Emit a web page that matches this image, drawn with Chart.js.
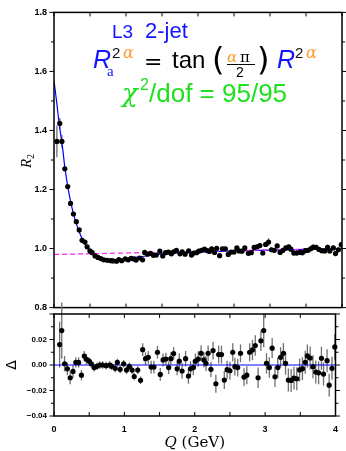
<!DOCTYPE html>
<html>
<head>
<meta charset="utf-8">
<script src="https://cdn.jsdelivr.net/npm/chart.js@4.4.1/dist/chart.umd.min.js"></script>
<style>
  body { margin: 0; background: #fff; }
  #wrap { position: relative; width: 346px; height: 451px; }
  canvas { position: absolute; left: 0; }
  #upper { top: 0; }
  #lower { top: 296px; }
</style>
</head>
<body>
<div id="wrap">
  <canvas id="upper" width="346" height="320"></canvas>
  <canvas id="lower" width="346" height="155"></canvas>
</div>
<script>
// Q bins of the residual panel (GeV)
const deltaQ = [
  0.08,0.11,0.15,0.19,0.23,0.27,0.31,0.35,0.39,0.43,
  0.46,0.50,0.53,0.57,0.61,0.65,0.69,0.74,0.79,0.82,
  0.87,0.90,0.94,0.99,1.03,1.07,1.11,1.14,1.19,1.23,
  1.26,1.30,1.34,1.38,1.42,1.47,1.51,1.55,1.59,1.63,
  1.66,1.70,1.75,1.78,1.82,1.87,1.91,1.94,1.98,2.01,
  2.05,2.09,2.13,2.16,2.19,2.23,2.26,2.30,2.34,2.38,
  2.42,2.46,2.50,2.54,2.57,2.61,2.65,2.70,2.74,2.78,
  2.82,2.86,2.90,2.94,2.98,3.02,3.06,3.10,3.14,3.18,
  3.22,3.26,3.29,3.33,3.37,3.41,3.45,3.49,3.53,3.57,
  3.60,3.64,3.68,3.72,3.76,3.80,3.83,3.88,3.91,3.95,
  3.99
];
const deltaValues = [
  0.016,0.027,0.001,-0.003,-0.010,-0.005,0.002,0.002,-0.008,0.007,
  0.0045,0.003,0.001,-0.002,-0.001,0.000,0.000,-0.0005,0.000,-0.001,
  -0.0026,0.002,-0.0034,0.001,-0.004,-0.001,-0.004,-0.009,-0.004,-0.012,
  0.012,0.005,0.006,-0.0016,-0.0016,0.010,-0.0074,0.004,0.0047,-0.002,
  0.005,0.009,-0.003,0.003,-0.0047,0.005,-0.0087,-0.003,-0.002,0.003,
  0.0047,0.0092,0.004,0.0013,0.0092,-0.0034,0.0113,-0.0147,0.0082,0.0082,
  -0.0118,-0.0037,-0.0045,0.010,-0.0013,-0.002,0.0092,-0.0095,-0.008,0.010,
  0.0118,0.0153,-0.010,0.019,0.027,0.0013,-0.002,0.0132,-0.0092,-0.002,
  0.006,0.0092,0.0013,-0.0118,-0.0121,-0.0103,-0.0108,-0.0039,-0.0029,0.0021,
  0.0071,0.0055,-0.0013,-0.0055,-0.0061,0.0053,-0.0071,0.0034,-0.0158,-0.0026,
  0.0142
];
const deltaErrors = [
  0.018,0.022,0.006,0.005,0.005,0.005,0.004,0.004,0.004,0.004,
  0.004,0.003,0.003,0.003,0.003,0.003,0.003,0.003,0.003,0.003,
  0.003,0.003,0.003,0.003,0.003,0.003,0.003,0.003,0.003,0.003,
  0.005,0.005,0.005,0.005,0.005,0.005,0.005,0.005,0.005,0.005,
  0.005,0.005,0.005,0.006,0.006,0.006,0.006,0.006,0.006,0.006,
  0.006,0.006,0.006,0.006,0.006,0.006,0.007,0.007,0.007,0.007,
  0.007,0.007,0.007,0.007,0.007,0.007,0.007,0.007,0.007,0.007,
  0.008,0.008,0.008,0.008,0.013,0.008,0.008,0.008,0.008,0.008,
  0.008,0.008,0.009,0.009,0.009,0.009,0.009,0.009,0.009,0.009,
  0.009,0.009,0.009,0.009,0.009,0.009,0.009,0.009,0.009,0.009,
  0.010
];

// R2 data: one extra bin at 0.04 GeV, then the same bins as above
const r2Q = [0.04].concat(deltaQ);
const r2Values = [
  1.363,
  1.424,1.363,1.270,1.210,1.153,1.117,1.091,1.063,1.028,1.022,
  1.006,0.992,0.986,0.975,0.970,0.966,0.962,0.960,0.959,0.958,
  0.957,0.963,0.959,0.965,0.962,0.967,0.965,0.961,0.968,0.962,
  0.987,0.981,0.984,0.977,0.978,0.991,0.975,0.986,0.988,0.982,
  0.989,0.994,0.982,0.989,0.981,0.992,0.978,0.985,0.986,0.991,
  0.994,0.998,0.993,0.990,0.999,0.987,1.001,0.976,0.999,0.999,
  0.980,0.988,0.988,1.002,0.992,0.991,1.002,0.984,0.986,1.004,
  1.006,1.010,0.985,1.014,1.022,0.996,0.994,1.009,0.987,0.994,
  1.002,1.006,0.998,0.985,0.985,0.987,0.986,0.993,0.994,1.000,
  1.005,1.004,0.997,0.993,0.992,1.004,0.992,1.002,0.983,0.996,
  1.013
];
const r2Errors = [0.054].concat(deltaErrors);

// fitted Levy curve and long-range background
const fitQ = [0,0.02,0.04,0.06,0.08,0.10,0.12,0.15,0.20,0.25,0.30,0.35,0.40,0.45,0.50,
  0.55,0.60,0.65,0.70,0.75,0.80,0.90,1.00,1.10,1.20,1.30,1.40,1.50,1.75,2.00,2.50,3.00,3.50,4.00];
const fitValues = [1.569,1.530,1.490,1.447,1.408,1.375,1.340,1.276,1.198,1.138,1.092,1.057,1.028,1.006,0.991,
  0.981,0.972,0.966,0.962,0.960,0.959,0.961,0.964,0.969,0.972,0.976,0.979,0.982,0.985,0.988,0.992,0.995,0.997,0.999];
const bgQ = [0, 4];
const bgValues = [0.980, 1.000];
const zeroQ = [0, 4];
const zeroValues = [0, 0];

const pts = (xs, ys) => xs.map((q, i) => ({x: q, y: ys[i]}));

const errorBars = {
  id: 'errorBars',
  beforeDatasetsDraw(chart) {
    const {ctx, scales: {x, y}} = chart;
    chart.data.datasets.forEach(ds => {
      if (!ds.errors) return;
      ctx.save();
      ctx.strokeStyle = '#707070';
      ctx.lineWidth = 1.3;
      ds.data.forEach((p, j) => {
        const e = ds.errors[j];
        const px = x.getPixelForValue(p.x);
        ctx.beginPath();
        ctx.moveTo(px, y.getPixelForValue(p.y - e));
        ctx.lineTo(px, y.getPixelForValue(p.y + e));
        ctx.stroke();
      });
      ctx.restore();
    });
  }
};

// frame with outward y ticks and inward x ticks
const frame = {
  id: 'frame',
  afterDraw(chart, args, opts) {
    const {ctx, chartArea: a, scales: {x, y}} = chart;
    ctx.save();
    ctx.strokeStyle = '#000';
    const seg = (x1, y1, x2, y2) => { ctx.beginPath(); ctx.moveTo(x1, y1); ctx.lineTo(x2, y2); ctx.stroke(); };
    ctx.lineWidth = 1;
    const n = Math.round((y.max - y.min) / opts.yMinor);
    for (let i = 0; i <= n; i++) {
      const v = y.min + i * opts.yMinor;
      const py = y.getPixelForValue(v);
      const len = (i % opts.majorEvery === 0) ? 4.5 : 3;
      seg(a.left - len, py, a.left, py);
      seg(a.right, py, a.right + len, py);
    }
    for (let i = 0; i <= 8; i++) {
      const px = x.getPixelForValue(i * 0.5);
      seg(px, a.top, px, a.top + 4);
      seg(px, a.bottom, px, a.bottom - 4);
    }
    ctx.lineWidth = 1.5;
    ctx.strokeRect(a.left, a.top, a.right - a.left, a.bottom - a.top);
    ctx.restore();
  }
};

function piece(ctx, text, x, y, font, color) {
  ctx.font = font;
  ctx.fillStyle = color;
  ctx.fillText(text, x, y);
}

const upperText = {
  id: 'upperText',
  afterDraw(chart) {
    const ctx = chart.ctx;
    ctx.save();
    ctx.textBaseline = 'alphabetic';
    const blue = '#1414ff', orange = '#ff9a30', green = '#1ee01e';
    piece(ctx, 'L3', 112, 38, '19px "Liberation Sans"', blue);
    piece(ctx, '2-jet', 145, 38, '22px "Liberation Sans"', blue);

    piece(ctx, 'R', 93, 68, 'italic 25px "Liberation Sans"', blue);
    piece(ctx, 'a', 107, 76, '15px "Liberation Serif"', blue);
    piece(ctx, '2', 112, 58, '15px "Liberation Sans"', '#111');
    piece(ctx, 'α', 123, 58, 'italic 16px "DejaVu Serif"', orange);
    piece(ctx, '=', 144, 69, '22px "DejaVu Sans"', '#000');
    piece(ctx, 'tan', 172, 68, '24px "Liberation Sans"', '#000');
    piece(ctx, '(', 212, 70, '32px "DejaVu Sans"', '#000');
    piece(ctx, 'α', 227, 62, 'italic 15px "DejaVu Serif"', orange);
    piece(ctx, 'π', 240, 62, '15px "DejaVu Serif"', '#000');
    ctx.fillStyle = '#000';
    ctx.fillRect(227, 64, 28, 1);
    piece(ctx, '2', 236, 77, '14px "Liberation Sans"', '#000');
    piece(ctx, ')', 257, 70, '32px "DejaVu Sans"', '#000');
    piece(ctx, 'R', 277, 68, 'italic 25px "Liberation Sans"', blue);
    piece(ctx, '2', 295, 58, '15px "Liberation Sans"', '#111');
    piece(ctx, 'α', 306, 58, 'italic 16px "DejaVu Serif"', orange);

    piece(ctx, 'χ', 122, 102, 'italic 26px "DejaVu Serif"', green);
    piece(ctx, '2', 140, 90, '16px "Liberation Sans"', green);
    piece(ctx, '/dof = 95/95', 149, 102, '26px "Liberation Sans"', green);

    // y title R_2
    ctx.translate(26, 161);
    ctx.rotate(-Math.PI / 2);
    piece(ctx, 'R', -7, 5, 'italic 15px "Liberation Serif"', '#000');
    piece(ctx, '2', 2, 8, '10px "Liberation Serif"', '#000');
    ctx.restore();
  }
};

const lowerText = {
  id: 'lowerText',
  afterDraw(chart) {
    const ctx = chart.ctx;
    const x = chart.scales.x;
    ctx.save();
    ctx.textBaseline = 'alphabetic';
    const cx = (x.left + x.right) / 2;
    ctx.font = 'italic 15px "DejaVu Serif"';
    const wq = ctx.measureText('Q ').width;
    ctx.font = '15px "DejaVu Serif"';
    const wr = ctx.measureText('(GeV)').width;
    const x0 = cx - (wq + wr) / 2;
    piece(ctx, 'Q', x0, 151, 'italic 15px "DejaVu Serif"', '#000');
    piece(ctx, '(GeV)', x0 + wq, 151, '15px "DejaVu Serif"', '#000');
    ctx.translate(11, 69);
    ctx.rotate(-Math.PI / 2);
    ctx.textAlign = 'center';
    piece(ctx, 'Δ', 0, 5, '14px "DejaVu Sans"', '#000');
    ctx.restore();
  }
};

const tickFont = {family: 'Liberation Sans', size: 9, weight: 'bold'};

new Chart(document.getElementById('upper'), {
  type: 'scatter',
  data: {
    datasets: [
      {data: pts(r2Q, r2Values), errors: r2Errors, pointRadius: 2.6, pointBackgroundColor: '#000',
       pointBorderWidth: 0, showLine: false},
      {data: pts(bgQ, bgValues), showLine: true, borderColor: '#ff20ff', borderWidth: 1.2,
       borderDash: [5, 3], pointRadius: 0},
      {data: pts(fitQ, fitValues), showLine: true, borderColor: '#0000ff', borderWidth: 1.2,
       pointRadius: 0, cubicInterpolationMode: 'monotone'}
    ]
  },
  options: {
    responsive: false,
    animation: false,
    devicePixelRatio: 1,
    layout: {padding: {top: 9, right: 4, bottom: 6, left: 0}},
    plugins: {legend: {display: false}, tooltip: {enabled: false},
      frame: {yMinor: 0.1, majorEvery: 2}},
    scales: {
      x: {type: 'linear', min: 0, max: 4, display: false},
      y: {
        min: 0.8, max: 1.8,
        afterFit(s) { s.width = 54; },
        grid: {display: false, drawTicks: false},
        border: {display: false},
        ticks: {stepSize: 0.2, padding: 7, color: '#000', font: tickFont,
          callback: v => v.toFixed(1)}
      }
    }
  },
  plugins: [errorBars, frame, upperText]
});

new Chart(document.getElementById('lower'), {
  type: 'scatter',
  data: {
    datasets: [
      {data: pts(deltaQ, deltaValues), errors: deltaErrors, pointRadius: 2.6, pointBackgroundColor: '#000',
       pointBorderWidth: 0, showLine: false, clip: false},
      {data: pts(zeroQ, zeroValues), showLine: true, borderColor: '#0000ff', borderWidth: 1.2, pointRadius: 0}
    ]
  },
  options: {
    responsive: false,
    animation: false,
    devicePixelRatio: 1,
    layout: {padding: {top: 18, right: 4, bottom: 0, left: 0}},
    plugins: {legend: {display: false}, tooltip: {enabled: false},
      frame: {yMinor: 0.01, majorEvery: 2}},
    scales: {
      x: {
        type: 'linear', min: 0, max: 4,
        afterFit(s) { s.height = 35; },
        grid: {display: false, drawTicks: false},
        border: {display: false},
        ticks: {stepSize: 1, padding: 8, color: '#000', font: tickFont, maxRotation: 0,
          callback: v => String(v)}
      },
      y: {
        min: -0.04, max: 0.04,
        afterFit(s) { s.width = 54; },
        grid: {display: false, drawTicks: false},
        border: {display: false},
        ticks: {stepSize: 0.02, padding: 7, color: '#000', font: {family: 'Liberation Sans', size: 8, weight: 'bold'},
          callback: v => v > 0.035 ? '' : v.toFixed(2).replace('-', '\u2212')}
      }
    }
  },
  plugins: [errorBars, frame, lowerText]
});
</script>
</body>
</html>
